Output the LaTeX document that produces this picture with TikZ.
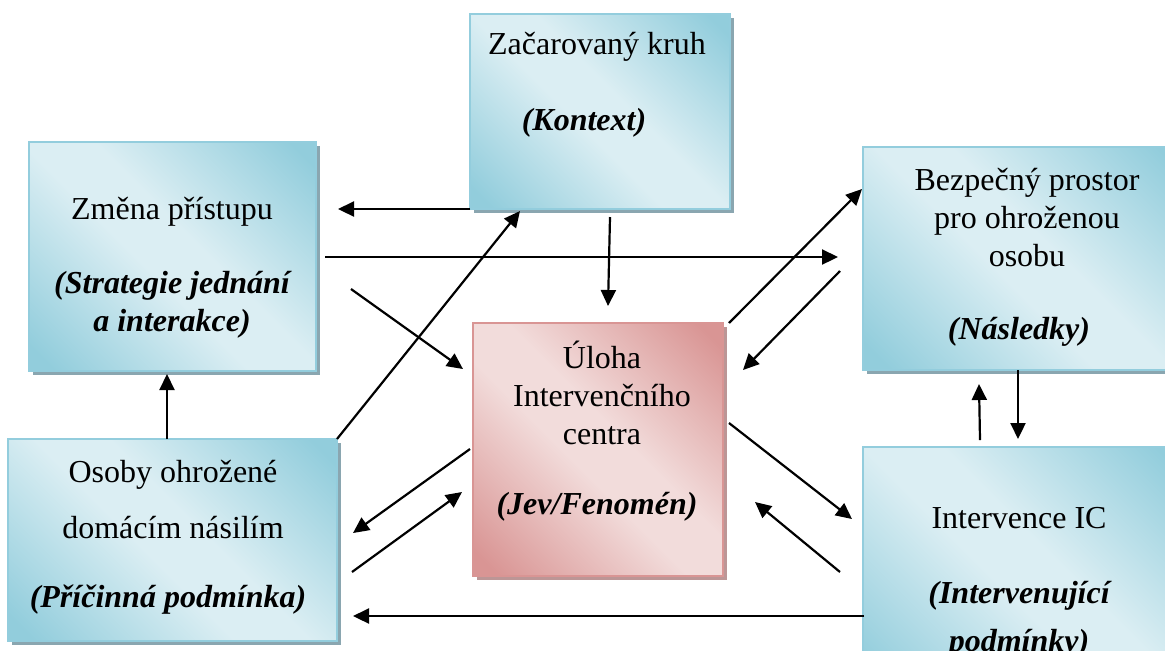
\documentclass[tikz,border=0pt]{standalone}
\usepackage{fontspec}
\setmainfont{Liberation Serif}
\usetikzlibrary{positioning, calc, arrows.meta, shadows}

\definecolor{bluedark}{RGB}{146,205,220}
\definecolor{bluelight}{RGB}{219,238,243}
\definecolor{blueline}{RGB}{147,205,221}
\definecolor{blueshadow}{RGB}{138,166,176}
\definecolor{pinkdark}{RGB}{217,149,148}
\definecolor{pinklight}{RGB}{242,220,219}
\definecolor{pinkshadow}{RGB}{188,150,150}

\pgfdeclarehorizontalshading{bluefade}{100bp}{color(0bp)=(bluedark); color(18bp)=(bluedark); color(45bp)=(bluelight); color(55bp)=(bluelight); color(82bp)=(bluedark); color(100bp)=(bluedark)}
\pgfdeclarehorizontalshading{pinkfade}{100bp}{color(0bp)=(pinkdark); color(18bp)=(pinkdark); color(45bp)=(pinklight); color(55bp)=(pinklight); color(82bp)=(pinkdark); color(100bp)=(pinkdark)}

\tikzset{
  bluebox/.style={draw=blueline, line width=.75pt, shading=bluefade, shading angle=45,
    general shadow={fill=blueshadow, shadow xshift=2pt, shadow yshift=-2pt},
    inner sep=0pt, outer sep=0pt},
  pinkbox/.style={bluebox, draw=pinkdark, shading=pinkfade,
    general shadow={fill=pinkshadow, shadow xshift=2pt, shadow yshift=-2pt}},
  txt/.style={font=\fontsize{16}{19}\selectfont, align=center, inner sep=0pt},
  itxt/.style={txt, font=\fontsize{16}{19}\selectfont\bfseries\itshape},
  arr/.style={-{Triangle[length=8pt,width=7.5pt]}, line width=1.1pt}
}

\begin{document}
\begin{tikzpicture}[x=.5pt, y=-.5pt]
  \useasboundingbox (0,0) rectangle (1165,650);
  \clip (0,0) rectangle (1165,650);

  % boxes
  \node[bluebox, minimum width=130pt, minimum height=97.5pt] (kontext) at (600,111.5) {};
  \node[bluebox, minimum width=143.5pt, minimum height=114.5pt] (zmena) at (172.5,256.5) {};
  \node[bluebox, minimum width=161pt, minimum height=111.5pt] (bezpecny) at (1024,258.5) {};
  \node[bluebox, minimum width=161pt, minimum height=121.5pt] (intervence) at (1024,568.5) {};
  \node[bluebox, minimum width=164.5pt, minimum height=101pt] (osoby) at (172.5,540) {};
  \node[pinkbox, minimum width=125pt, minimum height=126.5pt] (uloha) at (598,449.5) {};

  % texts
  \node[txt] (kontextA) at (597,47) {Začarovaný kruh};
  \node[itxt] (kontextB) at (584,123) {(Kontext)};
  \node[txt] (zmenaA) at (172,212) {Změna přístupu};
  \node[itxt] (zmenaB) at (172,305) {(Strategie jednání\\a interakce)};
  \node[txt] (bezpecnyA) at (1027,218) {Bezpečný prostor\\pro ohroženou\\osobu};
  \node[itxt] (bezpecnyB) at (1019,332) {(Následky)};
  \node[txt] (intervenceA) at (1019,518) {Intervence IC};
  \node[itxt, anchor=base] (intervenceB) at (1019,603) {(Intervenující};
  \node[itxt, anchor=base] (intervenceC) at (1019,651) {podmínky)};
  \node[txt] (osobyA) at (173,475) {Osoby ohrožené};
  \node[txt] (osobyB) at (173,528) {domácím násilím};
  \node[itxt] (osobyC) at (168,600) {(Příčinná podmínka)};
  \node[txt] (ulohaA) at (602,393) {Úloha\\Intervenčního\\centra};
  \node[itxt] (ulohaB) at (597,507) {(Jev/Fenomén)};

  % arrow ends
  \coordinate (k1) at (338,209);
  \coordinate (z2s) at (325,257);   \coordinate (b2e) at (838,257);
  \coordinate (z3s) at (351,289);   \coordinate (u3e) at (463,369);
  \coordinate (k4e) at (520,211);
  \coordinate (k5s) at (610,217);   \coordinate (u5e) at (608,306);
  \coordinate (o6s) at (167,439);   \coordinate (z6e) at (167,374);
  \coordinate (u7s) at (470,449);   \coordinate (o7e) at (353,533);
  \coordinate (o8s) at (352,572);   \coordinate (u8e) at (462,492);
  \coordinate (i9s) at (864,616);   \coordinate (o9e) at (353,616);
  \coordinate (u10s) at (729,323);  \coordinate (b10e) at (862,189);
  \coordinate (b11s) at (840,271);  \coordinate (u11e) at (743,370);
  \coordinate (u12s) at (729,423);  \coordinate (i12e) at (852,519);
  \coordinate (i13s) at (840,572);  \coordinate (u13e) at (755,502);
  \coordinate (i14s) at (980,440);  \coordinate (b14e) at (979,384);
  \coordinate (b15s) at (1018,370); \coordinate (i15e) at (1018,439);

  % arrows
  \foreach \s/\e in {kontext.south west/k1, z2s/b2e, z3s/u3e, osoby.north east/k4e,
      k5s/u5e, o6s/z6e, u7s/o7e, o8s/u8e, i9s/o9e, u10s/b10e, b11s/u11e,
      u12s/i12e, i13s/u13e, i14s/b14e, b15s/i15e}
    \draw[arr] (\s) -- (\e);
\end{tikzpicture}
\end{document}
